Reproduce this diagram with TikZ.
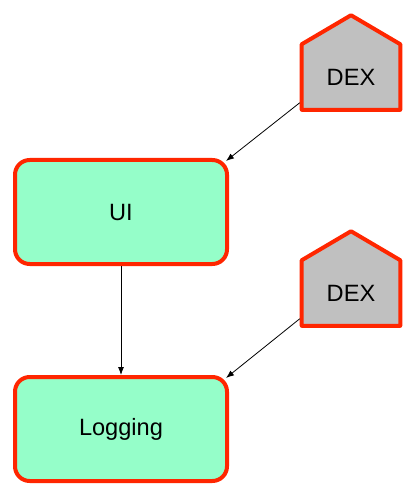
\documentclass[tikz,border=0pt]{standalone}
\usepackage{fontspec}
\setmainfont{Liberation Sans}
\usepackage{tikz}
\usetikzlibrary{calc,arrows.meta}

\definecolor{mint}{RGB}{149,254,201}
\definecolor{borderred}{RGB}{255,38,0}
\definecolor{housegrey}{RGB}{192,192,192}

\begin{document}
\begin{tikzpicture}[x=0.75pt, y=-0.75pt,
    comp/.style={rectangle, rounded corners=11pt, fill=mint, draw=borderred, line width=3pt, minimum width=159pt, minimum height=78pt, font=\fontsize{17.7}{21}\selectfont},
    dexbox/.style={rectangle, minimum width=73.5pt, minimum height=48.75pt, inner sep=0pt, font=\fontsize{17.7}{21}\selectfont},
    house/.style={fill=housegrey, draw=borderred, line width=3pt, line join=round},
    link/.style={-{Latex[length=6pt,width=4.5pt]}, line width=0.6pt}]
    \useasboundingbox (0,0) rectangle (413,495);

    \node[comp] (ui) at (121,212) {UI};
    
    \node[comp] (logging) at (121,429) {Logging};
    
    \node[dexbox] (dex1) at (351,77) {};
    \draw[house] (dex1.south west) -- (dex1.north west) -- ($(dex1.north) + (0,-29)$) -- (dex1.north east) -- (dex1.south east) -- cycle;
    \node[dexbox] at (dex1) {DEX};
    
    \node[dexbox] (dex2) at (351,293) {};
    \draw[house] (dex2.south west) -- (dex2.north west) -- ($(dex2.north) + (0,-29)$) -- (dex2.north east) -- (dex2.south east) -- cycle;
    \node[dexbox] at (dex2) {DEX};
    
    \draw[link] ($(dex1.south west) + (-2,-7)$) -- ($(ui.north east) + (-3,3)$);
    \draw[link] ($(dex2.south west) + (-2,-7)$) -- ($(logging.north east) + (-3,3)$);
    \draw[link] (ui.south) -- (logging.north);
    
    \end{tikzpicture}
\end{document}
